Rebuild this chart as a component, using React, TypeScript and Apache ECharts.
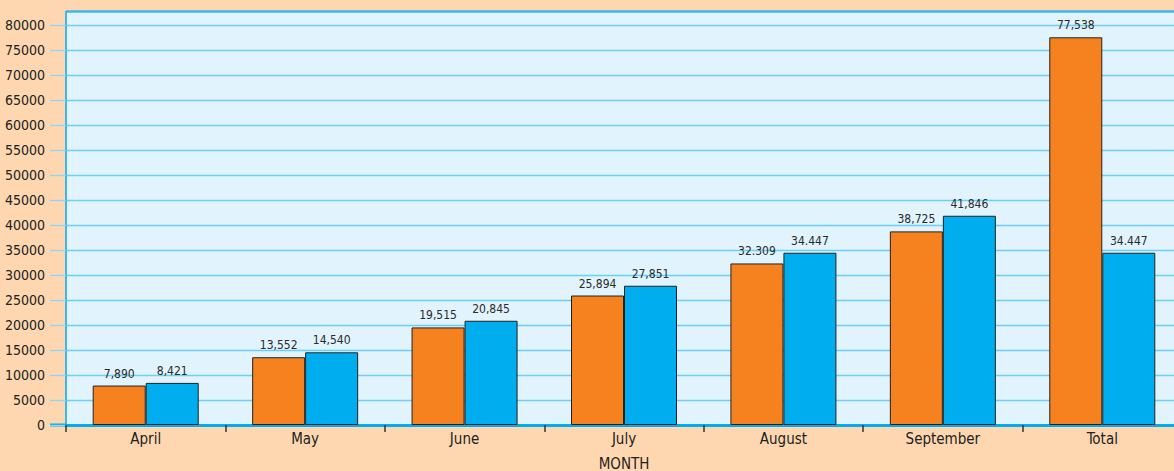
import React, { useEffect, useRef } from "react";
import * as echarts from "echarts";

const categories = ["April", "May", "June", "July", "August", "September", "Total"];
const orangeValues = [7890, 13552, 19515, 25894, 32309, 38725, 77538];
const blueValues = [8421, 14540, 20845, 27851, 34447, 41846, 34447];
const orangeLabels = ["7,890", "13,552", "19,515", "25,894", "32.309", "38,725", "77,538"];
const blueLabels = ["8,421", "14,540", "20,845", "27,851", "34.447", "41,846", "34.447"];
const yTicks = { min: 0, max: 80000, interval: 5000 };
const xAxisName = "MONTH";

const FONT = "'Liberation Sans Narrow', 'DejaVu Sans Condensed', 'Roboto', sans-serif";

export default function App() {
  const ref = useRef<HTMLDivElement>(null);
  useEffect(() => {
    if (!ref.current) return;
    const chart = echarts.init(ref.current, undefined, { renderer: "svg" });
    const barStyleBase = { borderColor: "#222", borderWidth: 1 };
    chart.setOption({
      animation: false,
      backgroundColor: "#FED7B0",
      textStyle: { fontFamily: FONT },
      grid: {
        left: 66,
        right: -8,
        top: 25,
        bottom: 46,
        containLabel: false,
        outerBoundsMode: "none",
        show: true,
        backgroundColor: "#E1F3FC",
        borderWidth: 0,
      },
      graphic: [
        {
          type: "rect",
          shape: { x: 66, y: 11, width: 1120, height: 14 },
          style: { fill: "#E1F3FC" },
          silent: true,
        },
        {
          type: "line",
          shape: { x1: 66, y1: 11.5, x2: 1174, y2: 11.5 },
          style: { stroke: "#3BB7E8", lineWidth: 2.5 },
          silent: true,
        },
        {
          type: "line",
          shape: { x1: 66, y1: 11, x2: 66, y2: 425 },
          style: { stroke: "#3BB7E8", lineWidth: 2 },
          silent: true,
        },
        {
          type: "line",
          shape: { x1: 50, y1: 425, x2: 67, y2: 425 },
          style: { stroke: "#00AEEF", lineWidth: 3 },
          silent: true,
        },
      ],
      xAxis: {
        type: "category",
        data: categories,
        name: xAxisName,
        nameLocation: "middle",
        nameGap: 31,
        nameTextStyle: { fontFamily: FONT, fontSize: 15, color: "#222" },
        axisLine: { show: true, lineStyle: { color: "#00AEEF", width: 3 } },
        axisTick: {
          show: true,
          length: 7,
          lineStyle: { color: "#333", width: 1.5 },
        },
        axisLabel: { fontFamily: FONT, fontSize: 15, color: "#222", margin: 6 },
        splitLine: { show: false },
      },
      yAxis: {
        type: "value",
        min: yTicks.min,
        max: yTicks.max,
        interval: yTicks.interval,
        axisLine: { show: true, lineStyle: { color: "#3BB7E8", width: 2 } },
        axisTick: { show: true, length: 16, lineStyle: { color: "#8FD6F4", width: 1.3 } },
        axisLabel: {
          fontFamily: FONT,
          fontSize: 14,
          color: "#222",
          margin: 21,
          formatter: (v: number) => String(v),
        },
        splitLine: { show: true, lineStyle: { color: "#6CCFF6", width: 1.3 } },
      },
      series: [
        {
          type: "bar",
          data: orangeValues,
          barWidth: 53,
          barGap: "0%",
          itemStyle: { ...barStyleBase, color: "#F5821F" },
          label: {
            show: true,
            position: "top",
            distance: 6,
            fontFamily: FONT,
            fontSize: 12,
            color: "#2a2a2a",
            formatter: (p: any) => orangeLabels[p.dataIndex],
          },
        },
        {
          type: "bar",
          data: blueValues,
          barWidth: 53,
          barGap: "0%",
          itemStyle: { ...barStyleBase, color: "#00AEEF" },
          label: {
            show: true,
            position: "top",
            distance: 6,
            fontFamily: FONT,
            fontSize: 12,
            color: "#2a2a2a",
            formatter: (p: any) => blueLabels[p.dataIndex],
          },
        },
      ],
    });
    return () => chart.dispose();
  }, []);
  return (
    <div
      ref={ref}
      style={{ position: "fixed", left: 0, top: 0, width: 1174, height: 471 }}
    />
  );
}
